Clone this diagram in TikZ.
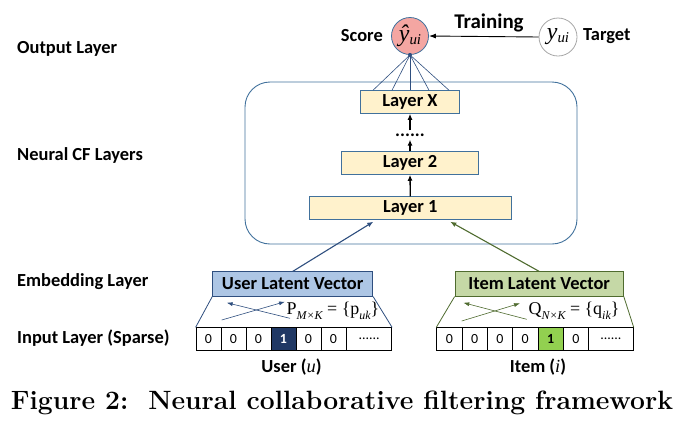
\documentclass[tikz,border=0pt]{standalone}
\usepackage{fontspec}
\setsansfont{Carlito}
\newfontfamily\tnr{Liberation Serif}
\usetikzlibrary{arrows.meta}
\definecolor{boxblue}{HTML}{41719C}
\definecolor{layerfill}{HTML}{FFF2CC}
\definecolor{scorefill}{HTML}{F4A6A2}
\definecolor{userfill}{HTML}{ADC6E5}
\definecolor{userline}{HTML}{2F4F7F}
\definecolor{itemfill}{HTML}{C5D8A6}
\definecolor{itemline}{HTML}{4F6B2F}
\definecolor{onecell}{HTML}{203864}
\definecolor{greencell}{HTML}{92D050}
\newcommand{\low}[2][12]{\raisebox{-0.3em}{\fontsize{#1}{#1}\selectfont\itshape #2}}
\newcommand{\bigy}[1]{{\tnr\fontsize{24}{24}\selectfont\itshape #1}}

\begin{document}
\begin{tikzpicture}[x=1bp,y=-1bp,
  lbl/.style={font=\sffamily\bfseries\fontsize{18.5}{20}\selectfont, inner sep=0pt},
  layer/.style={lbl, draw=boxblue, fill=layerfill, line width=0.9bp, minimum height=22.6bp},
  latent/.style={lbl, line width=0.9bp, minimum height=24.3bp},
  cell/.style={draw=black, line width=0.8bp, minimum width=25bp, minimum height=22.5bp, inner sep=0pt,
    font=\sffamily\fontsize{14}{14}\selectfont},
  onebox/.style={cell, font=\sffamily\bfseries\fontsize{14}{14}\selectfont},
  uparrow/.style={-{Latex[length=6bp,width=5bp]}, line width=1.3bp},
  fanline/.style={userline, line width=0.6bp},
  cross/.style={-{Latex[length=6bp,width=4bp]}, line width=0.6bp}]
  \useasboundingbox (0,0) rectangle (684,423);

  % left column
  \node[lbl, anchor=west] (outlbl) at (17,49)  {Output Layer};
  \node[lbl, anchor=west] (ncflbl) at (17,155) {Neural CF Layers};
  \node[lbl, anchor=west] (emblbl) at (17,282) {Embedding Layer};
  \node[lbl, anchor=west] (inlbl)  at (17,338) {Input Layer (Sparse)};

  % output layer
  \node[circle, draw=boxblue, fill=scorefill, line width=0.8bp, minimum size=37bp, inner sep=0pt] (score) at (410,36)
    {\bigy{ŷ}\low[15]{\tnr ui}};
  \node[circle, draw=gray!70, line width=0.8bp, minimum size=38bp, inner sep=0pt] (target) at (558,37)
    {\bigy{y}\low[15]{\tnr ui}};
  \node[lbl, anchor=east] (scorelbl) at (383,36) {Score};
  \node[lbl, anchor=west] (targetlbl) at (583,36) {Target};
  \node[lbl, font=\sffamily\bfseries\fontsize{21}{22}\selectfont] (trainlbl) at (489,23) {Training};
  \draw[-{Latex[length=7bp,width=5bp]}, line width=0.9bp] (target.west) -- (score.east);

  % neural CF layers
  \node[draw=boxblue, line width=0.9bp, rounded corners=25bp, minimum width=332bp, minimum height=162bp] (ncf) at (411,163) {};
  \node[layer, minimum width=98.6bp]  (layerX) at (410,102) {Layer X};
  \node[lbl, text height=3bp, text depth=0pt] (dots) at (410,135) {......};
  \node[layer, minimum width=136.6bp] (layer2) at (410,163) {Layer 2};
  \node[layer, minimum width=202.7bp] (layer1) at (410.3,208) {Layer 1};
  \draw[uparrow] (layer1.north) -- (layer2.south);
  \draw[uparrow] (layer2.north) -- ([yshift=-3bp]dots.south);
  \draw[uparrow] ([yshift=3bp]dots.north) -- (layerX.south);
  \foreach \dx in {-37,-18,0,19,39}
    \draw[fanline] ([xshift=\dx bp]layerX.north) -- (score.south);
  \fill[userline] (score.south) circle (2);

  % embedding layer
  \node[latent, draw=userline, fill=userfill, minimum width=160bp] (ulv) at (292.7,284) {User Latent Vector};
  \node[latent, draw=itemline, fill=itemfill, minimum width=168.3bp] (ilv) at (539.2,284) {Item Latent Vector};
  \draw[uparrow, userline, line width=1.1bp] (ulv.north) -- ([shift={(-37,2)}]layer1.south);
  \draw[uparrow, itemline, line width=1.1bp] (ilv.north) -- ([shift={(40,2)}]layer1.south);

  % input layer
  \foreach \v/\s [count=\i from 0] in {0/cell,0/cell,0/cell,1/onebox,0/cell,0/cell}
    \node[\s] (u\i) at ({208.5+25*\i},339) {\v};
  \node[cell, minimum width=45bp] (u6) at (369.2,339) {......};
  \node[onebox, fill=onecell, text=white] at (u3) {1};
  \foreach \v/\s [count=\i from 0] in {0/cell,0/cell,0/cell,0/cell,1/onebox,0/cell}
    \node[\s, minimum width=25.3bp] (i\i) at ({449.35+25.3*\i},339) {\v};
  \node[cell, minimum width=44.8bp] (i6) at (610.9,339) {......};
  \node[onebox, minimum width=25.3bp, fill=greencell] at (i4) {1};

  \draw[userline, line width=0.8bp] (ulv.south west) -- (u0.north west) (ulv.south east) -- (u6.north east);
  \draw[itemline, line width=0.8bp] (ilv.south west) -- (i0.north west) (ilv.south east) -- (i6.north east);
  \draw[cross, userline] (221.7,320) -- (285,301.7);
  \draw[cross, userline] (290,318.3) -- (226.7,302.7);
  \draw[cross, itemline] (461.7,321) -- (520,303.3);
  \draw[cross, itemline] (526.7,319.3) -- (463.3,302.7);
  \node[font=\tnr\fontsize{18}{18}\selectfont, inner sep=0pt] (pmat) at (333,311)
    {P\low{M×K} = \{p\low{uk}\}};
  \node[font=\tnr\fontsize{18}{18}\selectfont, inner sep=0pt] (qmat) at (574,311)
    {Q\low{N×K} = \{q\low{ik}\}};
  \node[lbl] (userlbl) at (291.5,367) {User ({\tnr\mdseries\itshape u})};
  \node[lbl] (itemlbl) at (538,367) {Item ({\tnr\mdseries\itshape i})};

  % caption
  \node[font=\rmfamily\bfseries\fontsize{26.6}{30}\selectfont] (caption) at (342,403)
    {Figure 2:\ \ Neural collaborative filtering framework};
\end{tikzpicture}
\end{document}
